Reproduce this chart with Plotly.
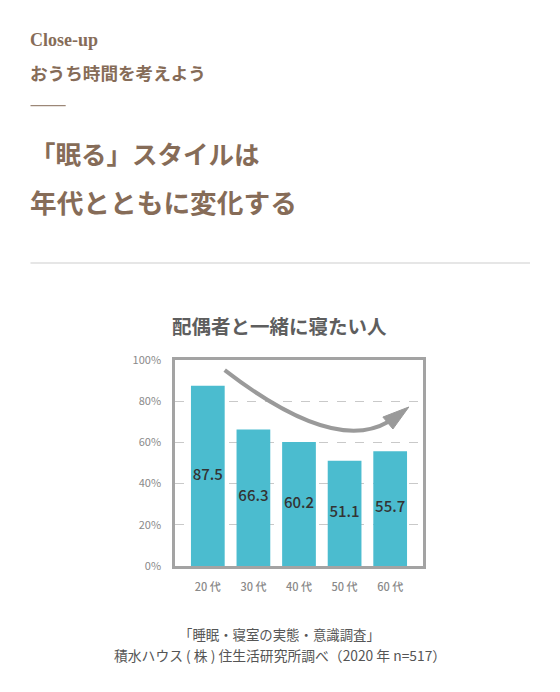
import plotly.graph_objects as go

# ---- data ----
categories = ["20 代", "30 代", "40 代", "50 代", "60 代"]
values = [87.5, 66.3, 60.2, 51.1, 55.7]
y_ticks = [0, 20, 40, 60, 80, 100]
y_tick_labels = ["0%", "20%", "40%", "60%", "80%", "100%"]

kicker = "Close-up"
subhead = "おうち時間を考えよう"
headline = ["「眠る」スタイルは", "年代とともに変化する"]
chart_title = "配偶者と一緒に寝たい人"
source = ["「睡眠・寝室の実態・意識調査」", "積水ハウス ( 株 ) 住生活研究所調べ（2020 年 n=517）"]

# trend arrow (decorative) in data units: bezier start, controls, end, head
arrow_curve = [(0.37, 95.1), (1.36, 78.2), (2.89, 56.3), (3.95, 69.9)]
arrow_head = [(4.41, 77.2), (3.84, 72.3), (4.06, 66.5)]

W, H = 560, 692
OFF = 8  # page body margin offset
L, R, T, B = 175, 423, 360, 566  # plot area in screen pixels
BROWN = "#866c58"
JP = "Noto Sans CJK JP"


def px(xp):
    return (xp - L) / (R - L)


def py(yp):
    return (B - yp) / (B - T)


x_idx = list(range(len(categories)))

fig = go.Figure()
fig.add_trace(go.Bar(
    x=x_idx, y=values, width=0.74,
    marker=dict(color="#4bbccf", line=dict(width=0)),
    hoverinfo="skip",
))
fig.add_trace(go.Scatter(
    x=x_idx, y=[v / 2 for v in values], mode="text",
    text=[f"{v:.1f}" for v in values], textposition="middle center",
    textfont=dict(family=JP, size=15, color="#333333", weight=500),
    hoverinfo="skip",
))

fig.update_layout(
    width=W, height=H,
    margin=dict(l=L - OFF, r=W - (R - OFF), t=T - OFF, b=H - (B - OFF), pad=0),
    paper_bgcolor="white", plot_bgcolor="white",
    showlegend=False,
    xaxis=dict(range=[-0.72, 4.72], tickvals=x_idx, ticktext=categories,
               showgrid=False, zeroline=False, showline=True, mirror=True,
               linecolor="#a3a3a3", linewidth=2.5, ticks="",
               ticklabelstandoff=9,
               tickfont=dict(family=JP, size=11, color="#8a8a8a", weight=500)),
    yaxis=dict(range=[0, 100], tickvals=y_ticks, ticktext=y_tick_labels,
               showgrid=True, gridcolor="#c9c9c9", griddash="dash", gridwidth=1,
               zeroline=False, showline=True, mirror=True,
               linecolor="#a3a3a3", linewidth=2.5, ticks="",
               ticklabelstandoff=9,
               tickfont=dict(family=JP, size=11, color="#8a8a8a")),
)

shapes = []
(p0, p1, p2, p3) = arrow_curve
shapes.append(dict(
    type="path", xref="x", yref="y", layer="above",
    path=f"M {p0[0]},{p0[1]} C {p1[0]},{p1[1]} {p2[0]},{p2[1]} {p3[0]},{p3[1]}",
    line=dict(color="#9a9a9a", width=4), fillcolor="rgba(0,0,0,0)",
))
h0, h1, h2 = arrow_head
shapes.append(dict(
    type="path", xref="x", yref="y", layer="above",
    path=f"M {h0[0]},{h0[1]} L {h1[0]},{h1[1]} L {h2[0]},{h2[1]} Z",
    line=dict(color="#9a9a9a", width=1), fillcolor="#9a9a9a",
))
shapes.append(dict(type="line", xref="paper", yref="paper",
                   x0=px(30.5), x1=px(65.7), y0=py(105.7), y1=py(105.7),
                   line=dict(color=BROWN, width=1)))
shapes.append(dict(type="line", xref="paper", yref="paper",
                   x0=px(30.5), x1=px(530), y0=py(263), y1=py(263),
                   line=dict(color="#e6e6e6", width=2)))
fig.update_layout(shapes=shapes)

ann = []


def add_text(text, x, y, size, color, family=JP, anchor="left", bold=True):
    ann.append(dict(
        text=f"<b>{text}</b>" if bold else text,
        x=px(x), y=py(y), xref="paper", yref="paper",
        xanchor=anchor, yanchor="middle", showarrow=False,
        font=dict(family=family, size=size, color=color),
        borderpad=0,
    ))


add_text(kicker, 29, 40, 18, BROWN, family="Liberation Serif")
add_text(subhead, 29, 72, 17.6, BROWN)
add_text(headline[0], 29, 153, 25.5, BROWN)
add_text(headline[1], 29, 202, 26.7, BROWN)
add_text(chart_title, 279, 325, 19.5, "#5e5e5e", anchor="center")
add_text(source[0], 279.5, 634, 13.4, "#555555", anchor="center", bold=False)
add_text(source[1], 279.5, 655, 13.8, "#555555", anchor="center", bold=False)
fig.update_layout(annotations=ann)

fig.write_html("out.html")
